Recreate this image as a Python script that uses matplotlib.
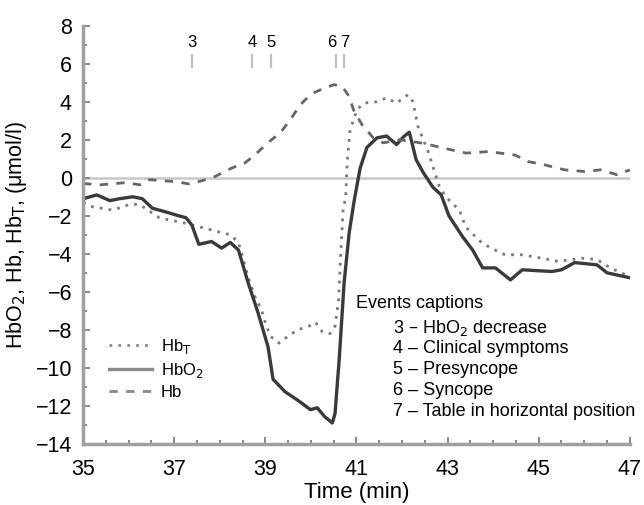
import numpy as np
import matplotlib
matplotlib.use('Agg')
import matplotlib.pyplot as plt

plt.rcParams['font.family'] = ['Liberation Sans', 'DejaVu Sans']

# ---- data ----
t_hbo2 = [35.0, 35.30, 35.59, 35.80, 36.09, 36.30, 36.52, 36.82, 37.10, 37.26, 37.39, 37.54,
          37.82, 38.04, 38.23, 38.41, 38.62, 38.84, 39.06, 39.17, 39.43, 39.71, 39.99, 40.14,
          40.30, 40.47, 40.53, 40.62, 40.73, 40.84, 40.95, 41.08, 41.23, 41.45, 41.66, 41.88,
          42.03, 42.16, 42.31, 42.46, 42.68, 42.86, 43.03, 43.33, 43.55, 43.77, 44.05, 44.38,
          44.64, 45.29, 45.50, 45.79, 46.28, 46.50, 47.0]
hbo2 = [-1.1, -0.9, -1.2, -1.1, -1.0, -1.1, -1.6, -1.8, -2.0, -2.1, -2.5, -3.5,
        -3.35, -3.7, -3.4, -3.8, -5.5, -7.1, -8.9, -10.6, -11.25, -11.7, -12.2, -12.1,
        -12.56, -12.9, -12.4, -9.6, -5.5, -2.9, -1.2, 0.5, 1.6, 2.1, 2.2, 1.75,
        2.15, 2.4, 0.95, 0.3, -0.5, -0.9, -2.0, -3.1, -3.8, -4.74, -4.74, -5.37,
        -4.84, -4.93, -4.84, -4.46, -4.58, -5.0, -5.26]

t_hb = [35.0, 35.37, 35.95, 36.24, 36.46, 37.03, 37.32, 37.60, 37.90, 38.25, 38.55, 38.77,
        39.06, 39.34, 39.56, 39.77, 40.0, 40.29, 40.51, 40.69, 40.84, 40.94, 41.12, 41.37,
        41.59, 41.95, 42.46, 42.90, 43.40, 43.90, 44.48, 44.76, 45.13, 45.57, 46.01, 46.36,
        46.72, 47.0]
hb = [-0.3, -0.37, -0.25, -0.37, -0.1, -0.2, -0.32, -0.16, 0.07, 0.5, 0.78, 1.2,
      1.85, 2.4, 3.1, 3.85, 4.4, 4.72, 4.9, 4.8, 4.28, 3.55, 2.8, 2.1,
      1.84, 2.0, 1.82, 1.57, 1.3, 1.38, 1.2, 0.86, 0.68, 0.42, 0.33, 0.42,
      0.16, 0.42]

t_hbt = [35.0, 35.15, 35.65, 36.02, 36.24, 36.67, 37.26, 38.23, 38.41, 38.62, 38.77, 38.91,
         39.02, 39.12, 39.30, 39.49, 39.71, 39.96, 40.10, 40.25, 40.42, 40.53, 40.61, 40.64,
         40.68, 40.71, 40.76, 40.80, 40.86, 41.01, 41.16, 41.45, 41.66, 41.88, 42.13, 42.24,
         42.35, 42.57, 42.82, 42.96, 43.26, 43.40, 43.76, 44.04, 44.26, 44.63, 45.07, 45.43,
         45.94, 46.28, 46.58, 47.0]
hbt = [-1.3, -1.5, -1.7, -1.4, -1.4, -2.1, -2.4, -3.0, -3.4, -5.2, -6.25, -6.9,
       -7.8, -8.35, -8.7, -8.35, -8.0, -7.8, -7.6, -8.1, -8.2, -7.8, -6.4, -4.7,
       -2.9, -1.5, -1.16, 0.95, 2.5, 3.58, 3.93, 4.0, 4.2, 3.93, 4.37, 4.0,
       2.7, 1.4, -0.46, -1.0, -1.7, -2.6, -3.44, -3.8, -4.05, -4.05, -4.23, -4.4,
       -4.23, -4.3, -4.75, -5.2]

event_ids = ['3', '4', '5', '6', '7']
event_times = [37.38, 38.71, 39.12, 40.56, 40.72]
event_text = ['HbO$_2$ decrease', 'Clinical symptoms', 'Presyncope', 'Syncope',
              'Table in horizontal position']

fig = plt.figure(figsize=(6.44, 5.05), dpi=100)
ax = fig.add_axes([0.129, 0.121, 0.849, 0.828])

ax.axhline(0, color='#c8c8c8', lw=1.8, zorder=1)

l_t, = ax.plot(t_hbt, hbt, color='#7a7a7a', lw=2.0, ls=(0, (1, 2.2)), label='Hb$_\\mathrm{T}$')
l_o, = ax.plot(t_hbo2, hbo2, color='#3a3a3a', lw=2.4, label='HbO$_2$')
l_b, = ax.plot(t_hb, hb, color='#666666', lw=2.0, ls=(0, (3, 3)), label='Hb')

# event markers along the top (numbers 6 and 7 pushed apart a little)
label_shift = [0, 0, 0, -0.1, 0.03]
for lab, t, dx in zip(event_ids, event_times, label_shift):
    ax.plot([t, t], [5.85, 6.45], color='#c0c0c0', lw=1.6)
    ax.text(t + dx, 7.1, lab, ha='center', va='center', fontsize=12)

# legend (handles: dotted, solid, dashed)
leg = ax.legend(handles=[l_t, l_o, l_b], loc='lower left', bbox_to_anchor=(0.035, 0.09),
                frameon=False, fontsize=12, handlelength=2.6, handletextpad=0.5,
                labelspacing=0.3, borderaxespad=0)
for h in leg.legend_handles:
    h.set_color('#8a8a8a')

# events captions block
ax.text(41.0, -6.6, 'Events captions', fontsize=13, va='center', ha='left')
for i, (lab, txt) in enumerate(zip(event_ids, event_text)):
    ax.text(41.8, -7.9 - i * 1.105, lab + ' \u2013 ' + txt, fontsize=13, va='center', ha='left')

ax.set_xlim(35, 47)
ax.set_ylim(-14, 8)
ax.set_xticks(np.arange(35, 48, 2))
ax.set_xticks(np.arange(35, 47.01, 0.5), minor=True)
ax.set_yticks(np.arange(-14, 9, 2))
ax.set_yticks(np.arange(-14, 9, 1), minor=True)

for s in ['top', 'right']:
    ax.spines[s].set_visible(False)
for s in ['left', 'bottom']:
    ax.spines[s].set_color('#a0a0a0')
    ax.spines[s].set_linewidth(2.5)

ax.tick_params(which='both', direction='in', color='#808080', width=1.3, labelsize=15.5)
ax.tick_params(which='major', length=5)
ax.tick_params(which='minor', length=3)
ax.tick_params(axis='x', pad=11)
ax.tick_params(axis='y', pad=8)

ax.set_xlabel('Time (min)', fontsize=16, labelpad=1)
ax.set_ylabel('HbO$_2$, Hb, Hb$_\\mathrm{T}$, (\u03bcmol/l)', fontsize=15.5, labelpad=5,
              family=['Liberation Sans Narrow', 'Liberation Sans', 'DejaVu Sans'])

fig.savefig('out.png', dpi=100)
